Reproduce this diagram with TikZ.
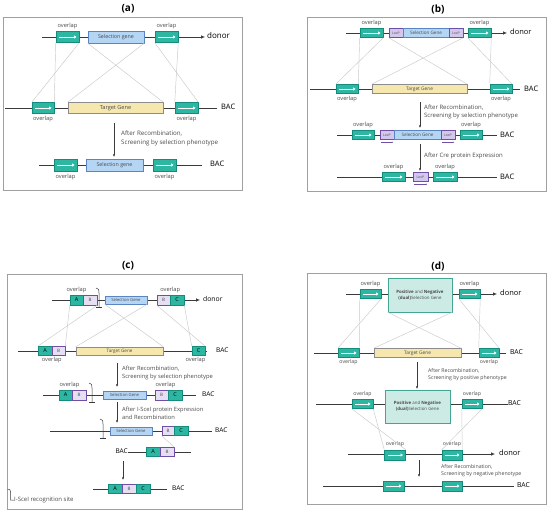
\documentclass[tikz,border=0pt]{standalone}
\usepackage{fontspec}
\setmainfont{Open Sans}
\usetikzlibrary{arrows.meta, positioning, calc}

\definecolor{dnagrey}{HTML}{3A3A3A}
\definecolor{tealfill}{HTML}{2DB7A3}
\definecolor{tealdark}{HTML}{138C7B}
\definecolor{selfill}{HTML}{B5D5F4}
\definecolor{seldark}{HTML}{5A84C2}
\definecolor{tgtfill}{HTML}{F5E7AE}
\definecolor{tgtdark}{HTML}{8C8C8C}
\definecolor{loxfill}{HTML}{D4C7EE}
\definecolor{loxdark}{HTML}{6E4FA5}
\definecolor{bfill}{HTML}{E6DEF3}
\definecolor{dualfill}{HTML}{CDEBE5}
\definecolor{dualdark}{HTML}{45A494}
\definecolor{crossgrey}{HTML}{C9C9C9}
\definecolor{framegrey}{HTML}{A0A0A0}
\definecolor{txtgrey}{HTML}{4A4A4A}

\tikzset{
  dna/.style={draw=dnagrey, line width=0.7pt},
  dnaend/.style={dna, -{Latex[length=4pt,width=3.6pt]}},
  flow/.style={draw=dnagrey, line width=0.5pt, -{Latex[length=2.6pt,width=2.2pt]}},
  loxarr/.style={draw=loxdark, line width=0.4pt, -{Latex[length=1.4pt,width=1.3pt]}},
  cross/.style={draw=crossgrey, line width=0.45pt},
  frame/.style={draw=framegrey, line width=0.6pt},
  ovl/.style={draw=tealdark, fill=tealfill, line width=0.5pt, inner sep=0pt,
    minimum width=22pt, minimum height=9pt,
    path picture={\draw[white, line width=0.8pt, -{Triangle[length=2.4pt,width=3pt]}]
      ([xshift=3pt]path picture bounding box.west) -- ([xshift=-2.5pt]path picture bounding box.east);}},
  gbox/.style={line width=0.5pt, inner sep=0pt, minimum height=9pt, text=txtgrey,
    font=\fontsize{5}{5}\selectfont},
  selbox/.style={gbox, draw=seldark, fill=selfill},
  tgtbox/.style={gbox, draw=tgtdark, fill=tgtfill},
  loxbox/.style={gbox, draw=loxdark, fill=loxfill, minimum width=14pt, font=\fontsize{3.4}{3.4}\selectfont},
  abox/.style={gbox, draw=tealdark, fill=tealfill, text=black, minimum width=13.5pt, font=\fontsize{5.5}{5.5}\selectfont},
  bbox/.style={gbox, draw=loxdark, fill=bfill, minimum width=13.5pt, font=\fontsize{4.5}{4.5}\selectfont},
  dualbox/.style={gbox, draw=dualdark, fill=dualfill, align=center, font=\fontsize{4.4}{6}\selectfont},
  lbl/.style={text=txtgrey, inner sep=0.5pt, font=\fontsize{5.7}{6}\selectfont},
  tag/.style={text=black, inner sep=0pt, anchor=west, font=\fontsize{7.5}{8}\selectfont},
  note/.style={text=txtgrey, anchor=west, align=left, inner sep=0pt, font=\fontsize{6}{8}\selectfont},
  ttl/.style={font=\bfseries\fontsize{10}{12}\selectfont},
  scemark/.pic={
    \draw[dnagrey, line width=0.5pt] (-3,-12) .. controls (0,-12) and (0,-10) .. (0,-7) -- (0,7);
    \draw[dnagrey, line width=0.5pt] (-3,7) -- (3,7);}
}

\begin{document}
\begin{tikzpicture}[x=1pt, y=-1pt]
\useasboundingbox (0,0) rectangle (550,511);

% ---------------- (a)
\node[ttl] (ta) at (128,9) {(a)};
\draw[frame] (3,17) rectangle (242,190);
\coordinate (aD0) at (42,37); \coordinate (aD1) at (205,37);
\draw[dnaend] (aD0) -- (aD1);
\node[ovl, minimum width=23pt, minimum height=11pt] (aO1) at (67.5,37) {};
\node[selbox, minimum width=56pt, minimum height=12pt, font=\fontsize{5.3}{5.3}\selectfont] (aSel1) at (116,37) {Selection gene};
\node[ovl, minimum width=23pt, minimum height=11pt] (aO2) at (166.5,37) {};
\node[tag, font=\fontsize{8}{8}\selectfont] (aDon) at (207,35.5) {donor};
\node[lbl, above=2pt of aO1] (aL1) {overlap};
\node[lbl, above=2pt of aO2] (aL2) {overlap};

\coordinate (aB0) at (5,108); \coordinate (aB1) at (217,108);
\draw[dna] (aB0) -- (aB1);
\node[ovl, minimum width=22pt, minimum height=11pt] (aP1) at (43,108) {};
\node[tgtbox, minimum width=95pt, minimum height=11pt, font=\fontsize{5.6}{5.6}\selectfont] (aTg) at (115.5,108) {Target Gene};
\node[ovl, minimum width=23pt, minimum height=11pt] (aP2) at (186.5,108) {};
\node[tag] (aBac1) at (221,107) {BAC};
\node[lbl, below=1.5pt of aP1] (aL3) {overlap};
\node[lbl, below=1.5pt of aP2] (aL4) {overlap};

\draw[cross] (aO1.south west) -- (aP1.north east);
\draw[cross] (aO1.south east) -- (aP1.north west);
\draw[cross] (aSel1.south west) -- (aTg.north east);
\draw[cross] (aSel1.south east) -- (aTg.north west);
\draw[cross] (aO2.south west) -- (aP2.north east);
\draw[cross] (aO2.south east) -- (aP2.north west);

\coordinate (aF0) at (114,123); \coordinate (aF1) at (114,157);
\draw[flow] (aF0) -- (aF1);
\node[note, font=\fontsize{6.2}{8.5}\selectfont] (aN1) at (121,138.5) {After Recombination,\\Screening by selection phenotype};

\coordinate (aR0) at (39,165); \coordinate (aR1) at (202,165);
\draw[dna] (aR0) -- (aR1);
\node[ovl, minimum width=23pt, minimum height=12pt] (aQ1) at (65.5,165) {};
\node[selbox, minimum width=57pt, minimum height=12pt, font=\fontsize{5.3}{5.3}\selectfont] (aSel2) at (114.5,165) {Selection gene};
\node[ovl, minimum width=23pt, minimum height=12pt] (aQ2) at (164.5,165) {};
\node[tag] (aBac2) at (210,164) {BAC};
\node[lbl, below=2pt of aQ1] (aL5) {overlap};
\node[lbl, below=2pt of aQ2] (aL6) {overlap};

% ---------------- (b)
\node[ttl] (tb) at (438,9) {(b)};
\draw[frame] (307,17) rectangle (546,191);
\coordinate (bD0) at (346,33); \coordinate (bD1) at (507,33);
\draw[dnaend] (bD0) -- (bD1);
\node[ovl, minimum width=23pt] (bO1) at (371.5,33) {};
\node[loxbox] (bLx1) at (396,33) {LoxP};
\node[selbox, minimum width=46pt, font=\fontsize{4.6}{4.6}\selectfont] (bSel1) at (426,33) {Selection Gene};
\node[loxbox] (bLx2) at (456,33) {LoxP};
\node[ovl, minimum width=23pt] (bO2) at (479.5,33) {};
\node[tag] (bDon) at (510,32) {donor};
\node[lbl, above=1.5pt of bO1] (bL1) {overlap};
\node[lbl, above=1.5pt of bO2] (bL2) {overlap};

\coordinate (bB0) at (310,89); \coordinate (bB1) at (520,89);
\draw[dna] (bB0) -- (bB1);
\node[ovl] (bP1) at (347,89) {};
\node[tgtbox, minimum width=95pt, font=\fontsize{4.8}{4.8}\selectfont] (bTg) at (419.5,89) {Target Gene};
\node[ovl] (bP2) at (501,89) {};
\node[tag] (bBac1) at (524,88.5) {BAC};
\node[lbl, below=1.5pt of bP1] (bL3) {overlap};
\node[lbl, below=1.5pt of bP2] (bL4) {overlap};

\draw[cross] (bO1.south west) -- (bP1.north east);
\draw[cross] (bO1.south east) -- (bP1.north west);
\draw[cross] (bLx1.south west) -- (bTg.north east);
\draw[cross] (bLx2.south east) -- (bTg.north west);
\draw[cross] (bO2.south west) -- (bP2.north east);
\draw[cross] (bO2.south east) -- (bP2.north west);

\coordinate (bF0) at (420,102); \coordinate (bF1) at (420,128);
\draw[flow] (bF0) -- (bF1);
\node[note, font=\fontsize{6}{8}\selectfont] (bN1) at (424,112) {After Recombination,\\Screening by selection phenotype};

\coordinate (bR0) at (337,135); \coordinate (bR1) at (497,135);
\draw[dna] (bR0) -- (bR1);
\node[ovl] (bQ1) at (363,135) {};
\node[loxbox] (bLx3) at (387,135) {LoxP};
\node[selbox, minimum width=47pt, font=\fontsize{4.6}{4.6}\selectfont] (bSel2) at (417.5,135) {Selection Gene};
\node[loxbox] (bLx4) at (448,135) {LoxP};
\node[ovl] (bQ2) at (471,135) {};
\node[tag] (bBac2) at (500,134.5) {BAC};
\node[lbl, above=1.5pt of bQ1] (bL5) {overlap};
\node[lbl, above=1.5pt of bQ2] (bL6) {overlap};
\draw[loxarr] ($(bLx3.south west)+(1,2.5)$) -- ($(bLx3.south east)+(-1,2.5)$);
\draw[loxarr] ($(bLx4.south west)+(1,2.5)$) -- ($(bLx4.south east)+(-1,2.5)$);

\coordinate (bF2) at (420,144); \coordinate (bF3) at (420,171);
\draw[flow] (bF2) -- (bF3);
\node[note] (bN2) at (424,156) {After Cre protein Expression};

\coordinate (bS0) at (337,177); \coordinate (bS1) at (497,177);
\draw[dna] (bS0) -- (bS1);
\node[ovl, minimum width=23pt] (bR1n) at (393.5,177) {};
\node[loxbox, minimum width=15pt] (bLx5) at (420.5,177) {LoxP};
\node[ovl, minimum width=24pt] (bR2n) at (445,177) {};
\node[tag] (bBac3) at (500,176.5) {BAC};
\node[lbl, above=1.5pt of bR1n] (bL7) {overlap};
\node[lbl, above=1.5pt of bR2n] (bL8) {overlap};
\draw[loxarr] ($(bLx5.south west)+(1,2.5)$) -- ($(bLx5.south east)+(-1,2.5)$);

% ---------------- (c)
\node[ttl] (tc) at (128,266) {(c)};
\draw[frame] (7,274) rectangle (242,509);
\coordinate (cD0) at (52,300); \coordinate (cD1) at (200,300);
\draw[dnaend] (cD0) -- (cD1);
\node[abox, minimum width=13pt, minimum height=10pt] (cA1) at (76.5,300) {A};
\node[bbox, minimum width=14pt, minimum height=10pt] (cB1) at (90,300) {B};
\pic at (99,300) {scemark};
\node[selbox, minimum width=42pt, minimum height=8pt, font=\fontsize{4.2}{4.2}\selectfont] (cSel1) at (126,300) {Selection Gene};
\node[bbox, minimum width=13pt, minimum height=10pt] (cB2) at (163.5,300) {B};
\node[abox, minimum width=14pt, minimum height=10pt] (cC1) at (177,300) {C};
\node[tag, font=\fontsize{6.8}{7}\selectfont] (cDon) at (203,299) {donor};
\node[lbl, above=1.5pt of cA1] (cL1) {overlap};
\coordinate (cM1) at ($(cB2.north)!0.5!(cC1.north)$);
\node[lbl, above=1.5pt of cM1] (cL2) {overlap};

\coordinate (cB0) at (18,351); \coordinate (cB1n) at (207,351);
\draw[dna] (cB0) -- (cB1n);
\node[abox, minimum width=14pt] (cA2) at (45,351) {A};
\node[bbox, minimum width=13pt] (cB3) at (58.5,351) {B};
\node[tgtbox, minimum width=87pt, minimum height=8pt, font=\fontsize{4.6}{4.6}\selectfont] (cTg) at (119.5,351) {Target Gene};
\node[abox, minimum width=13pt] (cC2) at (198.5,351) {C};
\node[tag, font=\fontsize{6.5}{7}\selectfont] (cBac1) at (216,350.5) {BAC};
\coordinate (cM2) at ($(cA2.south)!0.5!(cB3.south)$);
\node[lbl, below=1pt of cM2] (cL3) {overlap};
\node[lbl, below=1pt of cC2, xshift=-3pt] (cL4) {overlap};

\draw[cross] (cA1.south west) -- (cB3.north east);
\draw[cross] (cB1.south east) -- (cA2.north west);
\draw[cross] (cSel1.south west) -- (cTg.north east);
\draw[cross] (cSel1.south east) -- (cTg.north west);
\draw[cross] (cB2.south west) -- (cC2.north east);
\draw[cross] (cC1.south east) -- (cC2.north west);

\coordinate (cF0) at (117,363); \coordinate (cF1) at (117,387);
\draw[flow] (cF0) -- (cF1);
\node[note, font=\fontsize{5.8}{7.8}\selectfont] (cN1) at (122,373) {After Recombination,\\Screening by selection phenotype};

\coordinate (cR0) at (43,395); \coordinate (cR1) at (196,395);
\draw[dna] (cR0) -- (cR1);
\node[abox, minimum width=13pt, minimum height=10pt] (cA3) at (65.5,395) {A};
\node[bbox, minimum width=14pt, minimum height=10pt] (cB4) at (79,395) {B};
\pic at (92,395) {scemark};
\node[selbox, minimum width=43pt, minimum height=8pt, font=\fontsize{4.2}{4.2}\selectfont] (cSel2) at (124.5,395) {Selection Gene};
\node[bbox, minimum width=13pt, minimum height=10pt] (cB5) at (161.5,395) {B};
\node[abox, minimum width=14pt, minimum height=10pt] (cC3) at (175,395) {C};
\node[tag, font=\fontsize{6.5}{7}\selectfont] (cBac2) at (202,394.5) {BAC};
\node[lbl, above=1pt of cA3, xshift=4pt] (cL5) {overlap};
\node[lbl, above=1pt of cB5, xshift=4pt] (cL6) {overlap};

\coordinate (cF2) at (117,402); \coordinate (cF3) at (117,423);
\draw[flow] (cF2) -- (cF3);
\node[note, font=\fontsize{5.8}{7.8}\selectfont] (cN2) at (122,413.5) {After I-SceI protein Expression\\and Recombination};

\coordinate (cS0) at (50,431); \coordinate (cS1) at (212,431);
\draw[dna] (cS0) -- (cS1);
\pic at (103,431) {scemark};
\node[selbox, minimum width=42pt, minimum height=8pt, font=\fontsize{4.2}{4.2}\selectfont] (cSel3) at (131,431) {Selection Gene};
\node[bbox, minimum width=12pt] (cB6) at (168,431) {B};
\node[abox, minimum width=14pt] (cC4) at (181,431) {C};
\node[tag, font=\fontsize{6.5}{7}\selectfont] (cBac3) at (215,430.5) {BAC};

\node[tag, anchor=east, font=\fontsize{6.5}{7}\selectfont] (cBac4) at (128,451.5) {BAC};
\coordinate (cT1) at (191,452);
\draw[dna] (cBac4.east |- cT1) -- (cT1);
\node[abox, minimum width=14pt] (cA4) at (153,452) {A};
\node[bbox, minimum width=14pt] (cB7) at (167,452) {B};
\draw[cross] (cB6.south west) -- (cB7.north east);

\coordinate (cF4) at (123,461); \coordinate (cF5) at (123,480);
\draw[flow] (cF4) -- (cF5);

\coordinate (cU0) at (93,489); \coordinate (cU1) at (167,489);
\draw[dna] (cU0) -- (cU1);
\node[abox, minimum width=14pt] (cA5) at (115,489) {A};
\node[bbox, minimum width=14pt] (cB8) at (129,489) {B};
\node[abox, minimum width=14pt] (cC5) at (143,489) {C};
\node[tag, font=\fontsize{6.5}{7}\selectfont] (cBac5) at (172,488.5) {BAC};

\draw[dnagrey, line width=0.5pt] (7.5,489) .. controls (10,489) and (10.5,490) .. (10.5,492) -- (10.5,500) -- (14,500);
\node[note, font=\fontsize{6}{6}\selectfont] (cLeg) at (14,500) {I-SceI recognition site};

% ---------------- (d)
\node[ttl] (td) at (438,266) {(d)};
\draw[frame] (307,273) rectangle (546,504);
\coordinate (dD0) at (346,294); \coordinate (dD1) at (497,294);
\draw[dnaend] (dD0) -- (dD1);
\node[ovl, minimum width=21pt] (dO1) at (370.5,294) {};
\node[dualbox, minimum width=64pt, minimum height=34pt] (dDu1) at (420,295) {\textbf{Positive} and \textbf{Negative}\\\textbf{(dual)}Selection Gene};
\node[ovl, minimum width=21pt] (dO2) at (469.5,294) {};
\node[tag] (dDon1) at (500,293) {donor};
\node[lbl, above=2pt of dO1] (dL1) {overlap};
\node[lbl, above=2pt of dO2] (dL2) {overlap};

\coordinate (dB0) at (314,353); \coordinate (dB1) at (506,353);
\draw[dna] (dB0) -- (dB1);
\node[ovl, minimum width=21pt] (dP1) at (348.5,353) {};
\node[tgtbox, minimum width=87pt, font=\fontsize{4.8}{4.8}\selectfont] (dTg) at (417.5,353) {Target Gene};
\node[ovl, minimum width=20pt] (dP2) at (489,353) {};
\node[tag, font=\fontsize{6.8}{7}\selectfont] (dBac1) at (510,352.5) {BAC};
\node[lbl, below=1.5pt of dP1, font=\fontsize{5.2}{5.5}\selectfont] (dL3) {overlap};
\node[lbl, below=1.5pt of dP2, font=\fontsize{5.2}{5.5}\selectfont] (dL4) {overlap};

\draw[cross] (dO1.south west) -- (dP1.north east);
\draw[cross] (dO1.south east) -- (dP1.north west);
\draw[cross] (dDu1.south west) -- (dTg.north east);
\draw[cross] (dDu1.south east) -- (dTg.north west);
\draw[cross] (dO2.south west) -- (dP2.north east);
\draw[cross] (dO2.south east) -- (dP2.north west);

\coordinate (dF0) at (417,362); \coordinate (dF1) at (417,389);
\draw[flow] (dF0) -- (dF1);
\node[note, font=\fontsize{5.2}{7}\selectfont] (dN1) at (428,375) {After Recombination,\\Screening by positive phenotype};

\coordinate (dR0) at (316,404); \coordinate (dR1) at (508,404);
\draw[dna] (dR0) -- (dR1);
\node[ovl, minimum width=21pt] (dQ1) at (362.5,404) {};
\node[dualbox, minimum width=65pt, minimum height=33pt] (dDu2) at (417.5,406.5) {\textbf{Positive} and \textbf{Negative}\\\textbf{(dual)}Selection Gene};
\node[ovl, minimum width=20pt] (dQ2) at (472,404) {};
\node[tag, font=\fontsize{6.8}{7}\selectfont] (dBac2) at (508,403.5) {BAC};
\node[lbl, above=2pt of dQ1, font=\fontsize{5.2}{5.5}\selectfont] (dL5) {overlap};
\node[lbl, above=2pt of dQ2, font=\fontsize{5.2}{5.5}\selectfont] (dL6) {overlap};

\coordinate (dS0) at (348,454); \coordinate (dS1) at (495,454);
\draw[dnaend] (dS0) -- (dS1);
\node[ovl, minimum width=21pt, minimum height=10pt] (dR1n) at (395,455) {};
\node[ovl, minimum width=20pt, minimum height=10pt] (dR2n) at (452,455) {};
\node[tag] (dDon2) at (499,453) {donor};
\node[lbl, above=2pt of dR1n, font=\fontsize{5.2}{5.5}\selectfont] (dL7) {overlap};
\node[lbl, above=2pt of dR2n, font=\fontsize{5.2}{5.5}\selectfont] (dL8) {overlap};

\draw[cross] (dQ1.south west) -- (dR1n.north east);
\draw[cross] (dQ1.south east) -- (dR1n.north west);
\draw[cross] (dQ2.south west) -- (dR2n.north east);
\draw[cross] (dQ2.south east) -- (dR2n.north west);

\coordinate (dF2) at (419,460); \coordinate (dF3) at (419,477);
\draw[flow] (dF2) -- (dF3);
\node[note, font=\fontsize{5.2}{7}\selectfont] (dN2) at (441,470.5) {After Recombination,\\Screening by negative phenotype};

\coordinate (dT0) at (323,486); \coordinate (dT1) at (514,486);
\draw[dna] (dT0) -- (dT1);
\node[ovl, minimum width=21pt, minimum height=10pt] (dS1n) at (393.5,486) {};
\node[ovl, minimum width=20pt, minimum height=10pt] (dS2n) at (452,486) {};
\node[tag, font=\fontsize{6.8}{7}\selectfont] (dBac3) at (517,485.5) {BAC};
\end{tikzpicture}
\end{document}
